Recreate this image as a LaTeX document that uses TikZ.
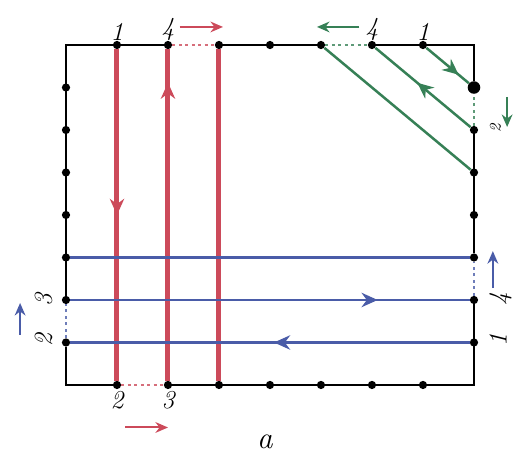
\documentclass[tikz,border=0pt]{standalone}
\usetikzlibrary{calc, positioning, arrows.meta, decorations.markings}
\definecolor{chainred}{RGB}{204, 74, 90}
\definecolor{chainblue}{RGB}{74, 92, 168}
\definecolor{chaingreen}{RGB}{54, 128, 86}
\tikzset{
  pt/.style={circle, fill=black, inner sep=0pt, minimum size=4.6pt},
  bigpt/.style={pt, minimum size=7pt},
  num/.style={font=\Large\itshape, inner sep=1pt},
  edge/.style={black, line width=0.9pt},
  redrun/.style={draw=chainred, line width=2.8pt},
  bluerun/.style={draw=chainblue, line width=1.5pt},
  greenrun/.style={draw=chaingreen, line width=1.4pt},
  flow/.style={postaction={decorate},
    decoration={markings, mark=at position #1 with {\arrow{Stealth[length=9pt, width=8pt]}}}},
  gap/.style={dotted, line width=1.6pt},
  hint/.style={-{Stealth[length=7pt, width=6pt]}, line width=1.1pt}
}

\begin{document}
\begin{tikzpicture}[x=1cm, y=0.8333cm]
  \useasboundingbox (-1.294, -1.694) rectangle (8.824, 9.059);

  % corners of the frame
  \coordinate (sw) at (0,0);
  \coordinate (se) at (8,0);
  \coordinate (ne) at (8,8);
  \coordinate (nw) at (0,8);

  % points on the four sides
  \foreach \i in {1,...,7} {
    \node[pt] (t\i) at (\i,8) {};
    \node[pt] (b\i) at (\i,0) {};
    \node[pt] (l\i) at (0,\i) {};
  }
  \foreach \j in {1,...,6} {
    \node[pt] (r\j) at (8,\j) {};
  }
  \node[bigpt] (r7) at (8,7) {};

  % frame, open where the chains close
  \draw[edge] (l2) -- (nw) -- (t2);
  \draw[edge] (t3) -- (t5);
  \draw[edge] (t6) -- (ne) -- (r7);
  \draw[edge] (r6) -- (r3);
  \draw[edge] (r2) -- (se) -- (b2);
  \draw[edge] (b1) -- (sw) -- (l1);

  \draw[gap, chainred!80] (t2) -- (t3);
  \draw[gap, chainred!80] (b1) -- (b2);
  \draw[gap, chaingreen!80] (t5) -- (t6);
  \draw[gap, chaingreen!80] (r6) -- (r7);
  \draw[gap, chainblue!80] (l1) -- (l2);
  \draw[gap, chainblue!80] (r2) -- (r3);

  % red chain
  \draw[redrun, flow=0.5] (t1) -- (b1);
  \draw[redrun, flow=0.9] (b2) -- (t2);
  \draw[redrun] (b3) -- (t3);

  % blue chain
  \draw[bluerun, flow=0.49] (r1) -- (l1);
  \draw[bluerun, flow=0.77] (l2) -- (r2);
  \draw[bluerun] (l3) -- (r3);

  % green chain
  \draw[greenrun, flow=0.76] (t7) -- (r7);
  \draw[greenrun, flow=0.56] (r6) -- (t6);
  \draw[greenrun] (t5) -- (r5);

  % numbers
  \node[num, above=-1pt of t1] (n1) {1};
  \node[num, above=-1pt of t2] (n4) {4};
  \node[num, below=0pt of b1] (n2) {2};
  \node[num, below=0pt of b2] (n3) {3};
  \node[num, above=-1pt of t6] (g4) {4};
  \node[num, above=-1pt of t7] (g1) {1};
  \node[num, rotate=90] (m3) at ($(l2)+(-0.44,0)$) {3};
  \node[num, rotate=90] (m2) at ($(l1)+(-0.44,0.05)$) {2};
  \node[num, rotate=90] (k4) at ($(r2)+(0.52,0.03)$) {4};
  \node[num, rotate=90] (k1) at ($(r1)+(0.47,0.06)$) {1};
  \node[font=\small\itshape, rotate=90, inner sep=0pt] (g2) at ($(r6)+(0.42,0.05)$) {2};

  % directions of travel
  \coordinate (ra) at ($(n4.east)+(0.06,0.05)$);
  \coordinate (rb) at ($(ra)+(0.85,0)$);
  \draw[hint, chainred] (ra) -- (rb);
  \coordinate (rc) at ($(b1)+(0.16,-1.0)$);
  \coordinate (rd) at ($(b2)+(0,-1.0)$);
  \draw[hint, chainred] (rc) -- (rd);

  \coordinate (ga) at ($(g4.west)+(-0.08,0.05)$);
  \coordinate (gb) at ($(ga)+(-0.83,0)$);
  \draw[hint, chaingreen] (ga) -- (gb);
  \coordinate (gc) at ($(r7)+(0.65,-0.22)$);
  \coordinate (gd) at ($(r7)+(0.65,-0.93)$);
  \draw[hint, chaingreen] (gc) -- (gd);

  \coordinate (ba) at ($(l1)+(-0.9,0.18)$);
  \coordinate (bb) at ($(l1)+(-0.9,0.93)$);
  \draw[hint, chainblue] (ba) -- (bb);
  \coordinate (bc) at ($(r2)+(0.37,0.28)$);
  \coordinate (bd) at ($(r2)+(0.37,1.15)$);
  \draw[hint, chainblue] (bc) -- (bd);

  \node[font=\LARGE\itshape] (cap) at (3.9,-1.34) {a};
\end{tikzpicture}
\end{document}
